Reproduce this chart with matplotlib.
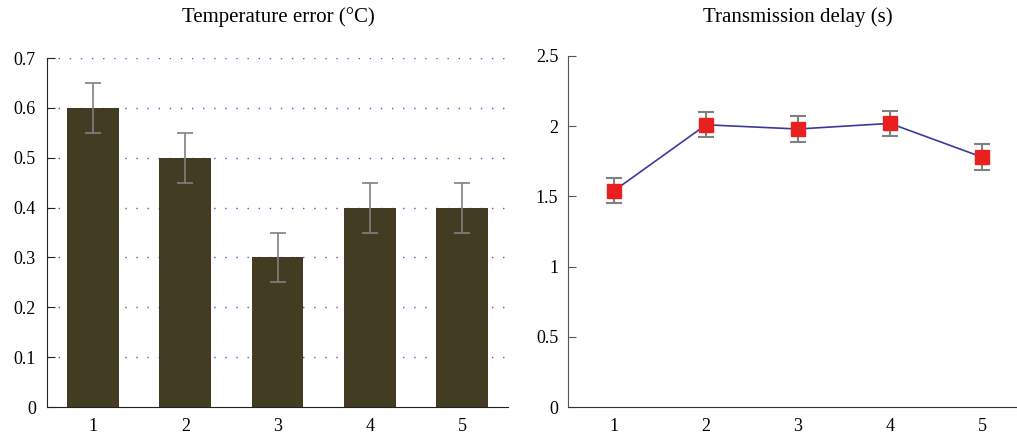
import matplotlib
matplotlib.use("Agg")
import matplotlib.pyplot as plt

plt.rcParams['font.family'] = ['Liberation Serif', 'DejaVu Serif']

categories = [1, 2, 3, 4, 5]
temp_error = [0.6, 0.5, 0.3, 0.4, 0.4]
temp_err_bar = [0.05, 0.05, 0.05, 0.05, 0.05]
delay = [1.54, 2.01, 1.98, 2.02, 1.78]
delay_err = [0.09, 0.09, 0.09, 0.09, 0.09]
left_yticks = [0, 0.1, 0.2, 0.3, 0.4, 0.5, 0.6, 0.7]
left_ylabels = ['0', '0.1', '0.2', '0.3', '0.4', '0.5', '0.6', '0.7']
right_yticks = [0, 0.5, 1, 1.5, 2, 2.5]
right_ylabels = ['0', '0.5', '1', '1.5', '2', '2.5']

W, H = 1017, 438
fig = plt.figure(figsize=(W/100, H/100), dpi=100)
ax1 = fig.add_axes([47/W, 1-407/H, (508-47)/W, (407-58)/H])
ax2 = fig.add_axes([568/W, 1-407/H, (1017-568)/W, (407-56)/H])

# Left: bars
for y in left_yticks[1:]:
    ax1.axhline(y, color='#5555cc', linestyle=(0, (1, 7)), linewidth=1.0, zorder=0)
ax1.bar(categories, temp_error, width=0.56, color='#423c22', zorder=2)
ax1.errorbar(categories, temp_error, yerr=temp_err_bar, fmt='none', ecolor='#808080',
             elinewidth=1.2, capsize=6, capthick=1.2, zorder=3)
ax1.set_xlim(0.5, 5.5)
ax1.set_ylim(0, 0.7)
ax1.set_yticks(left_yticks)
ax1.set_yticklabels(left_ylabels)
ax1.set_xticks(categories)
ax1.set_xticklabels([str(c) for c in categories])
ax1.spines['top'].set_visible(False)
ax1.spines['right'].set_visible(False)
ax1.spines['left'].set_color('#222222')
ax1.spines['bottom'].set_color('#222222')
ax1.tick_params(axis='y', direction='in', length=6, labelsize=13, color='#222222', pad=8)
ax1.tick_params(axis='x', length=0, labelsize=13, pad=8)

# Right: line with markers
ax2.errorbar(categories, delay, yerr=delay_err, fmt='none', ecolor='#808080',
             elinewidth=1.5, capsize=6, capthick=1.5, zorder=2)
ax2.plot(categories, delay, color='#3a3a9a', linewidth=1.2, marker='s', markersize=10,
         markerfacecolor='#e82020', markeredgecolor='#e82020', zorder=3)
ax2.set_xlim(0.5, 5.38)
ax2.set_ylim(0, 2.5)
ax2.set_yticks(right_yticks)
ax2.set_yticklabels(right_ylabels)
ax2.set_xticks(categories)
ax2.set_xticklabels([str(c) for c in categories])
ax2.spines['top'].set_visible(False)
ax2.spines['right'].set_visible(False)
ax2.spines['left'].set_color('#555555')
ax2.spines['bottom'].set_color('#333333')
ax2.tick_params(axis='y', direction='in', length=6, labelsize=13, color='#555555', pad=7)
ax2.tick_params(axis='x', length=0, labelsize=13, pad=8)

fig.text(278/W, 1-17/H, 'Temperature error (°C)', fontsize=15, ha='center', va='center')
fig.text(798/W, 1-17/H, 'Transmission delay (s)', fontsize=15, ha='center', va='center')

fig.savefig('out.png', dpi=100)
